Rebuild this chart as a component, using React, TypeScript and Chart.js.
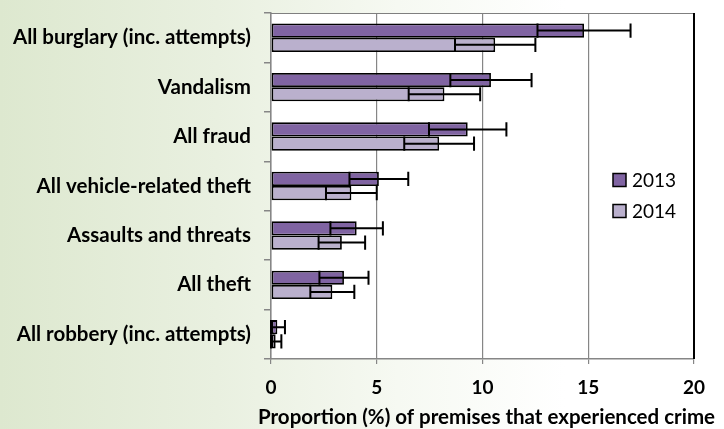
import React, { useEffect, useRef } from 'react';
import { Chart, registerables } from 'chart.js';

Chart.register(...registerables);

const categories = [
  'All burglary (inc. attempts)',
  'Vandalism',
  'All fraud',
  'All vehicle-related theft',
  'Assaults and threats',
  'All theft',
  'All robbery (inc. attempts)',
];
const seriesLabels = ['2013', '2014'];
const values2013 = [14.8, 10.4, 9.3, 5.1, 4.05, 3.45, 0.3];
const values2014 = [10.6, 8.2, 7.95, 3.8, 3.35, 2.9, 0.22];
const errors2013 = [2.2, 1.92, 1.83, 1.39, 1.24, 1.16, 0.36];
const errors2014 = [1.9, 1.69, 1.65, 1.2, 1.1, 1.04, 0.27];
const xTicks = [0, 5, 10, 15, 20];
const xTitle = 'Proportion (%) of premises that experienced crime';

const colors = ['#8064A2', '#BAB0CD'];
const errorsBySeries = [errors2013, errors2014];

const plotBgPlugin = {
  id: 'plotBg',
  beforeDraw(chart: any) {
    const { ctx, chartArea } = chart;
    ctx.save();
    ctx.fillStyle = '#ffffff';
    ctx.fillRect(chartArea.left, chartArea.top, chartArea.right - chartArea.left, chartArea.bottom - chartArea.top);
    ctx.restore();
  },
};

const errorBarPlugin = {
  id: 'errorBars',
  afterDatasetsDraw(chart: any) {
    const { ctx } = chart;
    const xs = chart.scales.x;
    ctx.save();
    ctx.strokeStyle = '#000';
    ctx.lineWidth = 2;
    chart.data.datasets.forEach((ds: any, i: number) => {
      const meta = chart.getDatasetMeta(i);
      const errs = errorsBySeries[i];
      meta.data.forEach((bar: any, j: number) => {
        const v = ds.data[j];
        const e = errs[j];
        const { y, height } = bar.getProps(['y', 'height'], true);
        const half = height / 2;
        const x1 = xs.getPixelForValue(Math.max(0, v - e));
        const x2 = xs.getPixelForValue(v + e);
        ctx.beginPath();
        ctx.moveTo(x1, y);
        ctx.lineTo(x2, y);
        ctx.moveTo(x1, y - half);
        ctx.lineTo(x1, y + half);
        ctx.moveTo(x2, y - half);
        ctx.lineTo(x2, y + half);
        ctx.stroke();
      });
    });
    ctx.restore();
  },
};

const frameLegendPlugin = {
  id: 'frameLegend',
  afterDraw(chart: any) {
    const { ctx, chartArea } = chart;
    ctx.save();
    ctx.strokeStyle = '#7f7f7f';
    ctx.lineWidth = 1.2;
    ctx.beginPath();
    ctx.moveTo(chartArea.left, chartArea.top + 0.5);
    ctx.lineTo(chartArea.right, chartArea.top + 0.5);
    ctx.stroke();
    ctx.strokeStyle = '#000';
    ctx.lineWidth = 2;
    ctx.beginPath();
    ctx.moveTo(chartArea.right, chartArea.top);
    ctx.lineTo(chartArea.right, chartArea.bottom);
    ctx.stroke();
    // legend
    const bx = chartArea.right - 81;
    const ys = [180, 211];
    chart.data.datasets.forEach((ds: any, i: number) => {
      const cy = ys[i];
      ctx.fillStyle = colors[i];
      ctx.fillRect(bx, cy - 6.5, 13, 13);
      ctx.strokeStyle = '#000';
      ctx.lineWidth = 1.5;
      ctx.strokeRect(bx, cy - 6.5, 13, 13);
      ctx.fillStyle = '#000';
      ctx.font = '19px Lato';
      ctx.textBaseline = 'middle';
      ctx.textAlign = 'left';
      ctx.fillText(ds.label, bx + 19, cy + 1);
    });
    // axis title (drawn unconstrained so it may overhang the plot like the original)
    ctx.fillStyle = '#000';
    ctx.font = 'bold 20.5px Lato';
    ctx.textAlign = 'center';
    ctx.textBaseline = 'middle';
    ctx.fillText(xTitle, (chartArea.left + chartArea.right) / 2 + 4, 417);
    ctx.restore();
  },
};

export default function App() {
  const ref = useRef<HTMLCanvasElement>(null);

  useEffect(() => {
    if (!ref.current) return;
    const chart = new Chart(ref.current, {
      type: 'bar',
      data: {
        labels: categories,
        datasets: [
          {
            label: seriesLabels[0],
            data: values2013,
            backgroundColor: colors[0],
            borderColor: '#000',
            borderWidth: 1.8,
            borderSkipped: false,
            categoryPercentage: 0.575,
            barPercentage: 1.0,
          },
          {
            label: seriesLabels[1],
            data: values2014,
            backgroundColor: colors[1],
            borderColor: '#000',
            borderWidth: 1.8,
            borderSkipped: false,
            categoryPercentage: 0.575,
            barPercentage: 1.0,
          },
        ],
      },
      options: {
        indexAxis: 'y',
        animation: false,
        responsive: true,
        maintainAspectRatio: false,
        layout: { padding: { left: 0, right: 30, top: 13, bottom: 0 } },
        plugins: {
          legend: { display: false },
          tooltip: { enabled: false },
        },
        scales: {
          x: {
            type: 'linear',
            min: 0,
            max: 20,
            afterBuildTicks: (scale: any) => {
              scale.ticks = xTicks.map((v) => ({ value: v }));
            },
            afterFit: (scale: any) => {
              scale.height = 70;
            },
            grid: {
              color: (c: any) => (c.tick && c.tick.value === 20 ? 'rgba(0,0,0,0)' : '#868686'),
              tickColor: '#868686',
              tickLength: 5,
              lineWidth: 1.2,
            },
            border: { color: '#868686', width: 1.5 },
            ticks: {
              color: '#000',
              font: { family: 'Lato', size: 19, weight: 'bold' },
              padding: 12,
              maxRotation: 0,
            },
            title: { display: false },
          },
          y: {
            afterFit: (scale: any) => {
              scale.width = 271;
              scale.paddingTop = 0;
              scale.paddingBottom = 0;
            },
            grid: {
              drawOnChartArea: false,
              offset: true,
              tickLength: 7,
              color: '#868686',
              lineWidth: 1.5,
            },
            border: { color: '#868686', width: 1.5 },
            ticks: {
              color: '#000',
              font: { family: 'Lato', size: 20.5, weight: 'bold' },
              padding: 13,
            },
          },
        },
      },
      plugins: [plotBgPlugin, errorBarPlugin, frameLegendPlugin],
    } as any);
    return () => chart.destroy();
  }, []);

  return (
    <div
      style={{
        position: 'fixed',
        left: 0,
        top: 0,
        width: 724,
        height: 429,
        background: 'linear-gradient(to right, #dde8cf 0%, #e9f0e0 30%, #f6f9f2 55%, #ffffff 78%)',
      }}
    >
      <canvas ref={ref} />
    </div>
  );
}
